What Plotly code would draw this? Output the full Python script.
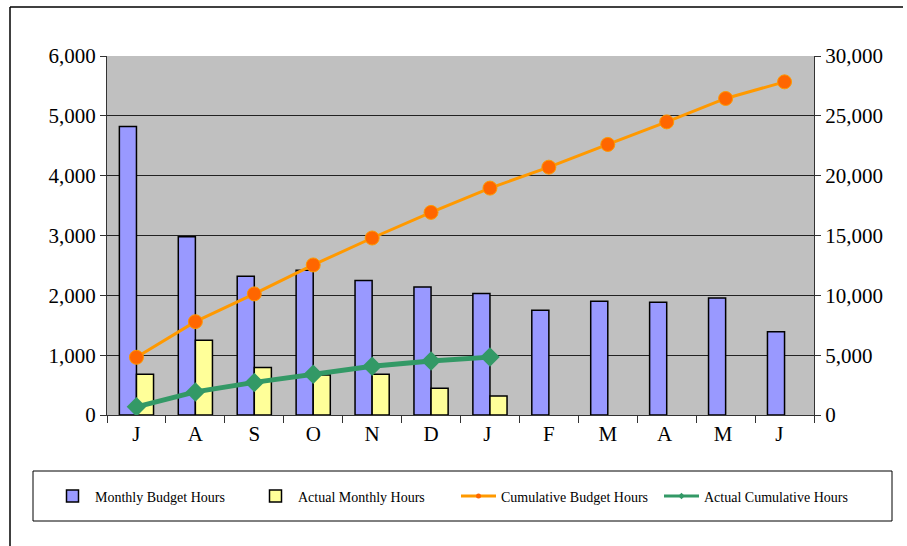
import plotly.graph_objects as go

months = ["J", "A", "S", "O", "N", "D", "J ", "F", "M", "A ", "M ", "J  "]
monthly_budget = [4820, 2980, 2320, 2420, 2250, 2140, 2030, 1750, 1900, 1885, 1955, 1390]
actual_monthly = [680, 1250, 795, 670, 680, 445, 317]
cumulative_budget = [4820, 7800, 10120, 12540, 14790, 16930, 18960, 20710, 22610, 24495, 26450, 27840]
actual_cumulative = [680, 1930, 2725, 3395, 4075, 4520, 4837]

W, H = 907, 546
L, R, T, B = 107, 814, 56, 415

def px_x(p):
    return (p - L) / (R - L)

def px_y(p):
    return (B - p) / (B - T)

fig = go.Figure()
fig.add_trace(go.Bar(x=months, y=monthly_budget, name="Monthly Budget Hours",
                     marker=dict(color="#9999FF", line=dict(color="black", width=1.5))))
fig.add_trace(go.Bar(x=months[:len(actual_monthly)], y=actual_monthly, name="Actual Monthly Hours",
                     marker=dict(color="#FFFF99", line=dict(color="black", width=1.5))))
fig.add_trace(go.Scatter(x=months, y=cumulative_budget, name="Cumulative Budget Hours", yaxis="y2",
                         mode="lines+markers", showlegend=False,
                         line=dict(color="#FF9900", width=3),
                         marker=dict(symbol="circle", size=14, color="#FF6600",
                                     line=dict(color="#FF9900", width=1))))
fig.add_trace(go.Scatter(x=months[:len(actual_cumulative)], y=actual_cumulative, name="Actual Cumulative Hours",
                         yaxis="y2", mode="lines+markers", showlegend=False,
                         line=dict(color="#339966", width=5),
                         marker=dict(symbol="diamond", size=15, color="#339966")))
# legend-only entries with small markers, as in the reference legend
fig.add_trace(go.Scatter(x=[None], y=[None], name="Cumulative Budget Hours", yaxis="y2",
                         mode="lines+markers", line=dict(color="#FF9900", width=3),
                         marker=dict(symbol="circle", size=5, color="#FF6600")))
fig.add_trace(go.Scatter(x=[None], y=[None], name="Actual Cumulative Hours", yaxis="y2",
                         mode="lines+markers", line=dict(color="#339966", width=3),
                         marker=dict(symbol="diamond", size=5, color="#339966")))

tickfont = dict(family="Liberation Serif", size=21, color="black")

fig.update_layout(
    width=W, height=H,
    margin=dict(l=L, r=W - R, t=T, b=H - B),
    paper_bgcolor="white",
    plot_bgcolor="#C0C0C0",
    barmode="group", bargap=0.42, bargroupgap=0,
    showlegend=True,
    legend=dict(orientation="h", x=px_x(50), xanchor="left", y=px_y(496.5), yanchor="middle",
                font=dict(family="Liberation Serif", size=14, color="black"),
                bgcolor="rgba(0,0,0,0)", entrywidth=153, itemwidth=35, traceorder="normal"),
    xaxis=dict(type="category", range=[-0.5, 11.5], tickfont=tickfont, showline=True,
               linecolor="#333333", linewidth=1,
               ticks="outside", ticklen=7, tickcolor="#333333", tickson="boundaries",
               showgrid=False, mirror=False),
    yaxis=dict(range=[0, 6000], dtick=1000, tickformat=",d", tickfont=tickfont,
               showline=True, linecolor="#333333", linewidth=1, ticks="outside", ticklen=6,
               tickcolor="#333333", showgrid=True, gridcolor="#222222", gridwidth=1, zeroline=False),
    yaxis2=dict(range=[0, 30000], dtick=5000, tickformat=",d", tickfont=tickfont, overlaying="y",
                side="right", showline=True, linecolor="#333333", linewidth=1, ticks="outside",
                ticklen=6, tickcolor="#333333", showgrid=False, zeroline=False),
    shapes=[
        dict(type="line", xref="paper", yref="paper", x0=px_x(10), x1=px_x(903), y0=px_y(7), y1=px_y(7),
             line=dict(color="black", width=1.5)),
        dict(type="line", xref="paper", yref="paper", x0=px_x(10), x1=px_x(10), y0=px_y(7), y1=px_y(560),
             line=dict(color="black", width=1.5)),
        dict(type="rect", xref="paper", yref="paper", x0=px_x(33), x1=px_x(892), y0=px_y(521), y1=px_y(471),
             line=dict(color="black", width=1), fillcolor="rgba(0,0,0,0)"),
    ],
)

fig.write_html("out.html")
